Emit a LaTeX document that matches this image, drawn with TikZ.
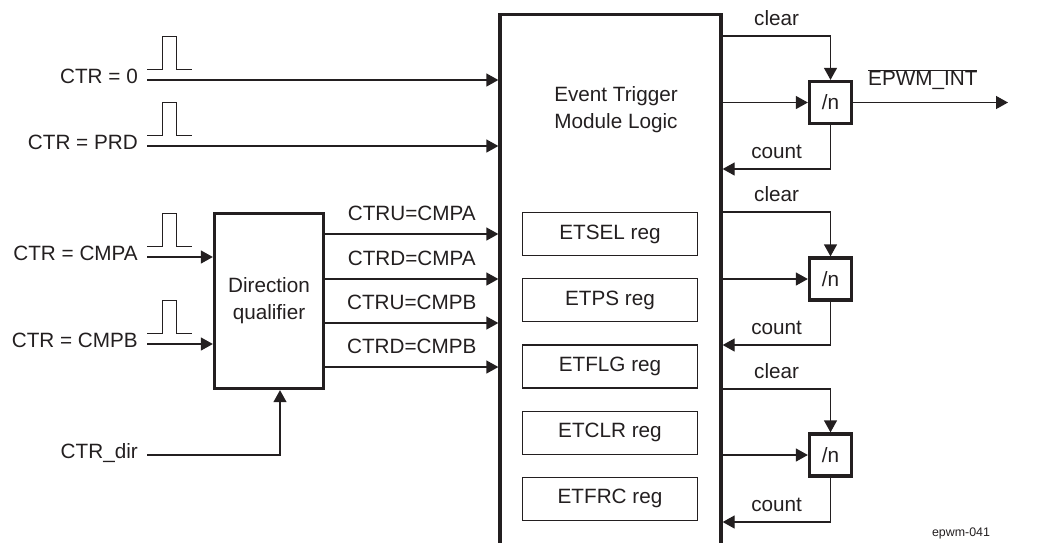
\documentclass[tikz,border=0pt]{standalone}
\usepackage{fontspec}
\setmainfont{Liberation Sans}
\usepackage{xcolor}
\usetikzlibrary{arrows.meta,positioning}
\definecolor{tiline}{HTML}{231F20}

\begin{document}
\begin{tikzpicture}[
  x=1pt,y=-1pt,
  font=\fontsize{20.7}{27}\selectfont,
  every node/.style={text=tiline},
  blk/.style={draw=tiline,line width=3.3pt,inner sep=0pt,align=center},
  reg/.style={draw=tiline,line width=1.2pt,minimum width=175pt,minimum height=43pt,inner sep=0pt},
  divn/.style={blk,minimum size=42pt},
  sig/.style={anchor=east,inner xsep=9pt,inner ysep=0pt,text height=0.72em,text depth=0pt},
  arr/.style={-{Triangle[length=12pt,width=13pt]},line width=1.3pt,draw=tiline},
  pulse/.style={line width=1pt,draw=tiline}
]
\useasboundingbox (0,0) rectangle (1038,542);

\node[blk,minimum width=221pt,minimum height=600pt] (etm) at (610.5,314.7) {};
\node[align=center] (etmtext) at (616,110) {Event Trigger\\Module Logic};

\node[reg] (etsel) at (610,234) {ETSEL reg};
\node[reg,below=22pt of etsel] (etps) {ETPS reg};
\node[reg,below=22pt of etps] (etflg) {ETFLG reg};
\node[reg,below=22pt of etflg] (etclr) {ETCLR reg};
\node[reg,below=22pt of etclr] (etfrc) {ETFRC reg};

\node[blk,minimum width=109pt,minimum height=175pt] (dq) at (269,301) {Direction\\qualifier};

\node[sig] (ctrzero) at (147,80) {CTR = 0};
\node[sig] (ctrprd) at (147,146) {CTR = PRD};
\node[sig] (ctrcmpa) at (147,257) {CTR = CMPA};
\node[sig] (ctrcmpb) at (147,344) {CTR = CMPB};
\node[sig] (ctrdir) at (147,455) {CTR\_dir};

\draw[pulse] ([yshift=11pt]ctrzero.east) -- ++(15,0) -- ++(0,-33) -- ++(14,0) -- ++(0,33) -- ++(16,0);
\draw[pulse] ([yshift=11pt]ctrprd.east) -- ++(15,0) -- ++(0,-33) -- ++(14,0) -- ++(0,33) -- ++(16,0);
\draw[pulse] ([yshift=11pt]ctrcmpa.east) -- ++(15,0) -- ++(0,-33) -- ++(14,0) -- ++(0,33) -- ++(16,0);
\draw[pulse] ([yshift=11pt]ctrcmpb.east) -- ++(15,0) -- ++(0,-33) -- ++(14,0) -- ++(0,33) -- ++(16,0);

\draw[arr] (ctrzero.east) -- (ctrzero.east -| etm.west);
\draw[arr] (ctrprd.east) -- (ctrprd.east -| etm.west);
\draw[arr] (ctrcmpa.east) -- (ctrcmpa.east -| dq.west);
\draw[arr] (ctrcmpb.east) -- (ctrcmpb.east -| dq.west);
\draw[arr] (ctrdir.east) -| ([xshift=11pt]dq.south);

\draw[arr] (dq.east |- 0,234) -- node[above=9pt] (cmpaup) {CTRU=CMPA} (etm.west |- 0,234);
\draw[arr] (dq.east |- 0,279) -- node[above=9pt] (cmpadown) {CTRD=CMPA} (etm.west |- 0,279);
\draw[arr] (dq.east |- 0,323) -- node[above=9pt] (cmpbup) {CTRU=CMPB} (etm.west |- 0,323);
\draw[arr] (dq.east |- 0,367) -- node[above=9pt] (cmpbdown) {CTRD=CMPB} (etm.west |- 0,367);

\node[divn] (div1) at (830.5,102.5) {/n};
\node[divn] (div2) at (830.5,279) {/n};
\node[divn] (div3) at (830.5,455) {/n};

\draw[arr] (etm.east |- 0,36) -| node[pos=0.25,above=6pt] (clear1) {clear} (div1.north);
\draw[arr] (etm.east |- div1) -- (div1.west);
\draw[arr] (div1.south) |- node[pos=0.75,above=6pt] (count1) {count} (etm.east |- 0,169);

\draw[arr] (etm.east |- 0,212) -| node[pos=0.25,above=6pt] (clear2) {clear} (div2.north);
\draw[arr] (etm.east |- div2) -- (div2.west);
\draw[arr] (div2.south) |- node[pos=0.75,above=6pt] (count2) {count} (etm.east |- 0,345);

\draw[arr] (etm.east |- 0,389) -| node[pos=0.25,above=6pt] (clear3) {clear} (div3.north);
\draw[arr] (etm.east |- div3) -- (div3.west);
\draw[arr] (div3.south) |- node[pos=0.75,above=6pt] (count3) {count} (etm.east |- 0,522);

\coordinate (intout) at (1008,102.5);
\draw[arr] (div1.east) -- node[pos=0.45,above=9pt] (epwmint) {$\overline{\mbox{EPWM\_INT}}$} (intout);

\node[font=\fontsize{12.4}{14}\selectfont] (figid) at (961,533) {epwm-041};

\end{tikzpicture}
\end{document}
